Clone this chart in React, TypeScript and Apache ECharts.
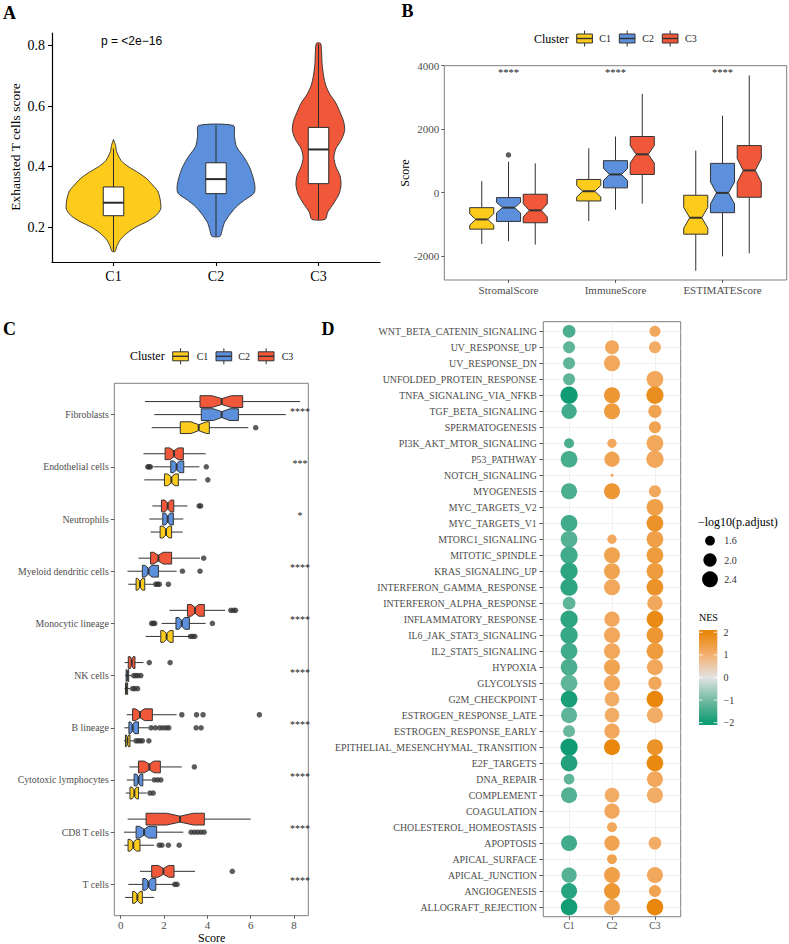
import React, { useEffect, useRef } from 'react';
import * as echarts from 'echarts';

const W = 789;
const H = 944;
const SERIF = '"Liberation Serif", "Times New Roman", serif';
const SANS = '"Liberation Sans", Arial, sans-serif';
const GRAY_TXT = '#4D4D4D';
const BOX_LINE = '#333333';

// ---------- shared ----------
const clusters = ['C1', 'C2', 'C3'];
const clusterColors = ['#FCCB1B', '#5C8FDC', '#F1583A'];
const clusterN = [35, 50, 47];

// ---------- Panel A : exhausted T cell score violins ----------
// [score, half width in category units]
const violinC1 = [[0.12, 0.015], [0.14, 0.036], [0.16, 0.07], [0.18, 0.13], [0.2, 0.215], [0.22, 0.335], [0.24, 0.42], [0.26, 0.46], [0.28, 0.46], [0.3, 0.45], [0.32, 0.43], [0.34, 0.38], [0.36, 0.325], [0.38, 0.244], [0.4, 0.146], [0.42, 0.075], [0.45, 0.03], [0.47, 0.02], [0.49, 0]];
const violinC2 = [[0.17, 0.04], [0.19, 0.06], [0.213, 0.08], [0.24, 0.13], [0.268, 0.2], [0.29, 0.28], [0.312, 0.37], [0.334, 0.38], [0.367, 0.36], [0.4, 0.325], [0.433, 0.27], [0.466, 0.2], [0.5, 0.18], [0.536, 0.17]];
const violinC3 = [[0.226, 0.065], [0.25, 0.09], [0.28, 0.15], [0.31, 0.2], [0.34, 0.22], [0.37, 0.21], [0.4, 0.17], [0.43, 0.15], [0.46, 0.17], [0.49, 0.225], [0.52, 0.255], [0.55, 0.245], [0.58, 0.21], [0.61, 0.17], [0.64, 0.11], [0.67, 0.07], [0.7, 0.05], [0.74, 0.035], [0.78, 0.03], [0.808, 0.02]];
const violinProfiles = [violinC1, violinC2, violinC3];
// [lower whisker, Q1, median, Q3, upper whisker]
const violinBoxes = [
  [0.12, 0.238, 0.281, 0.333, 0.46],
  [0.17, 0.311, 0.359, 0.413, 0.536],
  [0.226, 0.344, 0.457, 0.53, 0.805],
];
const pValueText = 'p = <2e\u221216';
const aTicks = [0.2, 0.4, 0.6, 0.8];

// ---------- Panel B : ESTIMATE scores ----------
const estimateCats = ['StromalScore', 'ImmuneScore', 'ESTIMATEScore'];
const stromalStats = [[-1619, -1153, -847, -476, 360], [-1534, -910, -476, -159, 974], [-1640, -952, -561, -53, 920]];
const immuneStats = [[-899, -265, 42, 413, 1397], [-540, 148, 571, 1005, 1767], [-349, 571, 1206, 1767, 3111]];
const estimateScoreStats = [[-2466, -1312, -794, -85, 1323], [-2011, -635, -11, 920, 2423], [-1915, -148, 698, 1481, 3693]];
const estimateStats = [stromalStats, immuneStats, estimateScoreStats];
const estimateOutliers = [[0, 1, 1185]]; // [category, cluster, value]
const estimateSig = ['****', '****', '****'];
const bTicks = [-2000, 0, 2000, 4000];

// ---------- Panel C : MCP-counter cell scores ----------
const cellTypes = ['Fibroblasts', 'Endothelial cells', 'Neutrophils', 'Myeloid dendritic cells', 'Monocytic lineage', 'NK cells', 'B lineage', 'Cytotoxic lymphocytes', 'CD8 T cells', 'T cells'];
const cellStatsC1 = [[1.43, 2.75, 3.6, 4.09, 5.89], [1.09, 2.02, 2.34, 2.66, 3.51], [1.38, 1.82, 2.09, 2.35, 2.86], [0.35, 0.71, 0.89, 1.11, 1.51], [1.15, 1.85, 2.12, 2.42, 3.2], [0.18, 0.22, 0.26, 0.32, 0.43], [0.15, 0.22, 0.31, 0.43, 0.58], [0.23, 0.43, 0.63, 0.82, 1.2], [0.17, 0.34, 0.58, 0.89, 1.54], [0.2, 0.55, 0.77, 1.0, 1.54]];
const cellStatsC2 = [[1.55, 3.72, 4.66, 5.43, 7.62], [1.51, 2.31, 2.58, 2.91, 3.63], [1.32, 1.94, 2.17, 2.43, 2.89], [0.31, 1.0, 1.28, 1.74, 2.58], [1.89, 2.55, 2.82, 3.17, 3.92], [0.2, 0.25, 0.31, 0.37, 0.48], [0.17, 0.38, 0.55, 0.82, 1.28], [0.28, 0.62, 0.82, 1.02, 1.43], [0.15, 0.71, 1.08, 1.66, 2.89], [0.35, 1.02, 1.28, 1.62, 2.46]];
const cellStatsC3 = [[1.12, 3.66, 4.66, 5.63, 8.28], [1.05, 2.05, 2.46, 2.89, 3.92], [1.46, 1.88, 2.17, 2.45, 3.08], [0.82, 1.38, 1.74, 2.35, 3.66], [2.25, 3.08, 3.43, 3.86, 4.82], [0.18, 0.35, 0.51, 0.66, 1.05], [0.28, 0.55, 0.89, 1.46, 2.58], [0.4, 0.82, 1.32, 1.83, 2.82], [0.32, 1.17, 2.74, 3.86, 6.0], [0.89, 1.43, 1.97, 2.46, 3.43]];
const cellStats = [cellStatsC1, cellStatsC2, cellStatsC3];
// [cell type, cluster, value]
const cellOutliers = [
  [0, 0, 6.23],
  [1, 1, 1.25], [1, 1, 1.31], [1, 1, 1.37], [1, 1, 3.95], [1, 0, 4.02],
  [2, 2, 3.62], [2, 2, 3.69],
  [3, 2, 3.83], [3, 1, 2.85], [3, 1, 3.66], [3, 0, 1.62], [3, 0, 1.7], [3, 0, 1.78], [3, 0, 2.2],
  [4, 2, 5.08], [4, 2, 5.2], [4, 2, 5.3], [4, 1, 1.43], [4, 1, 1.5], [4, 1, 1.57], [4, 1, 4.23], [4, 0, 3.22], [4, 0, 3.32], [4, 0, 3.42],
  [5, 2, 1.32], [5, 2, 2.28], [5, 1, 0.6], [5, 1, 0.7], [5, 1, 0.8], [5, 1, 0.93], [5, 0, 0.55], [5, 0, 0.65], [5, 0, 0.78],
  [6, 2, 2.82], [6, 2, 3.5], [6, 2, 3.8], [6, 2, 6.4], [6, 1, 1.4], [6, 1, 1.6], [6, 1, 1.8], [6, 1, 1.95], [6, 1, 2.1], [6, 1, 2.22], [6, 1, 3.48], [6, 1, 3.71], [6, 0, 0.7], [6, 0, 0.8], [6, 0, 0.9], [6, 0, 1.0], [6, 0, 1.3],
  [7, 2, 3.4], [7, 1, 1.55], [7, 1, 1.7], [7, 1, 1.85], [7, 0, 1.35], [7, 0, 1.5],
  [8, 1, 3.25], [8, 1, 3.4], [8, 1, 3.55], [8, 1, 3.7], [8, 1, 3.85], [8, 0, 1.78], [8, 0, 1.9], [8, 0, 2.2], [8, 0, 2.7],
  [9, 2, 5.15], [9, 1, 2.5], [9, 1, 2.6],
];
const cellSig = ['****', '***', '*', '****', '****', '****', '****', '****', '****', '****'];
const cTicks = [0, 2, 4, 6, 8];

// ---------- Panel D : GSEA hallmark dot plot ----------
const hallmarks = ['WNT_BETA_CATENIN_SIGNALING', 'UV_RESPONSE_UP', 'UV_RESPONSE_DN', 'UNFOLDED_PROTEIN_RESPONSE', 'TNFA_SIGNALING_VIA_NFKB', 'TGF_BETA_SIGNALING', 'SPERMATOGENESIS', 'PI3K_AKT_MTOR_SIGNALING', 'P53_PATHWAY', 'NOTCH_SIGNALING', 'MYOGENESIS', 'MYC_TARGETS_V2', 'MYC_TARGETS_V1', 'MTORC1_SIGNALING', 'MITOTIC_SPINDLE', 'KRAS_SIGNALING_UP', 'INTERFERON_GAMMA_RESPONSE', 'INTERFERON_ALPHA_RESPONSE', 'INFLAMMATORY_RESPONSE', 'IL6_JAK_STAT3_SIGNALING', 'IL2_STAT5_SIGNALING', 'HYPOXIA', 'GLYCOLYSIS', 'G2M_CHECKPOINT', 'ESTROGEN_RESPONSE_LATE', 'ESTROGEN_RESPONSE_EARLY', 'EPITHELIAL_MESENCHYMAL_TRANSITION', 'E2F_TARGETS', 'DNA_REPAIR', 'COMPLEMENT', 'COAGULATION', 'CHOLESTEROL_HOMEOSTASIS', 'APOPTOSIS', 'APICAL_SURFACE', 'APICAL_JUNCTION', 'ANGIOGENESIS', 'ALLOGRAFT_REJECTION'];
const nesC1 = [-1.4, -1.2, -1.2, -1.2, -2.0, -1.5, null, -1.4, -1.45, null, -1.4, null, -1.5, -1.3, -1.5, -1.7, -1.7, -1.2, -1.7, -1.6, -1.5, -1.4, -1.2, -1.9, -1.2, -1.1, -2.0, -1.8, -1.2, -1.3, null, null, -1.5, null, -1.3, -1.75, -1.95];
const nesC2 = [null, 1.2, 1.2, null, 1.6, 1.5, null, 1.2, 1.3, 1.3, 1.6, null, null, 1.2, 1.3, 1.3, 1.2, null, 1.2, 1.2, 1.2, 1.3, 1.2, 1.1, 1.1, 1.2, 2.0, null, null, 1.1, 1.2, 1.2, 1.3, 1.3, 1.4, 1.6, 1.3];
const nesC3 = [1.2, 1.1, null, 1.2, 1.8, 1.3, 1.3, 1.2, 1.2, null, 1.2, 1.4, 1.7, 1.4, 1.5, 1.5, 1.7, 1.2, 1.9, 1.6, 1.5, 1.2, 1.2, 2.0, 1.1, null, 1.7, 1.95, 1.2, 1.1, null, null, 1.1, null, 1.2, 1.3, 2.0];
const logPC1 = [1.93, 1.84, 1.84, 1.84, 2.66, 2.3, null, 1.62, 2.54, null, 2.42, null, 2.54, 2.54, 2.66, 2.66, 2.66, 1.93, 2.66, 2.66, 2.54, 2.54, 2.54, 2.54, 2.42, 1.84, 2.66, 2.54, 1.69, 2.42, null, null, 2.42, null, 2.3, 2.42, 2.54];
const logPC2 = [null, 2.1, 2.42, null, 2.42, 2.42, null, 1.56, 2.3, 1.3, 2.42, null, null, 1.56, 2.42, 2.42, 2.42, null, 2.3, 2.42, 2.42, 2.42, 2.42, 2.21, 2.21, 2.3, 2.42, null, null, 2.21, 2.3, 1.62, 2.3, 1.62, 2.42, 2.42, 2.42];
const logPC3 = [1.72, 1.84, null, 2.54, 2.66, 2.0, 1.84, 2.54, 2.66, null, 1.84, 2.54, 2.54, 2.54, 2.54, 2.54, 2.54, 2.3, 2.54, 2.54, 2.54, 2.42, 2.0, 2.54, 2.42, null, 2.42, 2.54, 2.42, 2.42, null, null, 1.93, null, 2.42, 1.84, 2.54];
const nesByCluster = [nesC1, nesC2, nesC3];
const logPByCluster = [logPC1, logPC2, logPC3];
const sizeLegendValues = [1.6, 2.0, 2.4];
const nesTicks = [2, 1, 0, -1, -2];
const nesColors = ['#0F9B73', '#73BBA2', '#E3E3E3', '#F3B070', '#E8870B'];

// size scale (area-like, as ggplot scale_size)
const dotSize = (v: number) => 3 + 14 * Math.sqrt(Math.max(0, (v - 1.3) / 1.3));

function seg(a: number[], b: number[], lw: number, col: string) {
  return { type: 'line', shape: { x1: a[0], y1: a[1], x2: b[0], y2: b[1] }, style: { stroke: col, lineWidth: lw } };
}

function notchedBox(api: any, pos: number, stats: number[], n: number, color: string, horizontal: boolean) {
  const [lo, q1, med, q3, hi] = stats;
  const notch = (1.58 * (q3 - q1)) / Math.sqrt(n);
  const nlo = med - notch;
  const nhi = med + notch;
  const P = (off: number, v: number) => (horizontal ? api.coord([v, pos + off]) : api.coord([pos + off, v]));
  const w = 0.1125;
  const wn = w * 0.5;
  const pts = [P(-w, q1), P(-w, nlo), P(-wn, med), P(-w, nhi), P(-w, q3), P(w, q3), P(w, nhi), P(wn, med), P(w, nlo), P(w, q1)];
  return {
    type: 'group',
    children: [
      seg(P(0, q3), P(0, hi), 1, BOX_LINE),
      seg(P(0, q1), P(0, lo), 1, BOX_LINE),
      { type: 'polygon', shape: { points: pts }, style: { fill: color, stroke: BOX_LINE, lineWidth: 1 } },
      seg(P(-wn, med), P(wn, med), 2, BOX_LINE),
    ],
  };
}

function txt(text: string, x: number, y: number, o: any = {}) {
  return {
    type: 'text',
    x,
    y,
    rotation: o.rotation || 0,
    style: {
      text,
      fontSize: o.size || 12,
      fontFamily: o.family || SERIF,
      fontWeight: o.weight || 'normal',
      fill: o.color || '#000',
      align: o.align || 'left',
      verticalAlign: 'middle',
    },
  };
}

function legendKeys(labelX: number, y: number, keyXs: number[], labelXs: number[]) {
  const els: any[] = [txt('Cluster', labelX, y, { size: 12 })];
  keyXs.forEach((kx, i) => {
    const w = 15.7;
    const cx = kx + w / 2;
    els.push(seg([cx, y - 8], [cx, y - 4.5], 1, BOX_LINE));
    els.push(seg([cx, y + 4.5], [cx, y + 8], 1, BOX_LINE));
    els.push({ type: 'rect', shape: { x: kx, y: y - 4.5, width: w, height: 9 }, style: { fill: clusterColors[i], stroke: BOX_LINE, lineWidth: 1 } });
    els.push(seg([kx, y], [kx + w, y], 1.4, BOX_LINE));
    els.push(txt(clusters[i], labelXs[i], y, { size: 10, color: '#1a1a1a' }));
  });
  return els;
}

function buildOption() {
  const serifLabel = (size: number, color: string, margin: number) => ({ fontFamily: SERIF, fontSize: size, color, margin });
  const idxs = (n: number) => Array.from({ length: n }, (_, i) => i);

  // D dots
  const dots: number[][] = [];
  nesByCluster.forEach((arr, c) => {
    arr.forEach((nes, r) => {
      const lp = logPByCluster[c][r];
      if (nes !== null && lp !== null) dots.push([c, r, lp as number, nes as number]);
    });
  });

  // B boxes data
  const bBoxData: number[][] = [];
  estimateStats.forEach((cat, ci) => cat.forEach((s, cl) => bBoxData.push([ci + (cl - 1) * 0.25, s[2], ci, cl])));
  const cBoxData: number[][] = [];
  cellTypes.forEach((_, ti) => clusters.forEach((__, cl) => cBoxData.push([cellStats[cl][ti][2], ti + (1 - cl) * 0.25, ti, cl])));

  // colourbar
  const barTop = 630, barH = 95, barX = 699, barW = 18.3;
  const pxPerNes = 22.6;
  const nesY = (v: number) => barTop + (2.1 - v) * pxPerNes;
  const gradStops = [{ offset: 0, color: nesColors[4] }].concat(
    [2, 1, 0, -1, -2].map((v, i) => ({ offset: (nesY(v) - barTop) / barH, color: nesColors[4 - i] })),
    [{ offset: 1, color: nesColors[0] }]
  );

  const graphic: any[] = [
    txt('A', 3, 12.5, { size: 18, weight: 'bold' }),
    txt('B', 401.5, 11, { size: 18, weight: 'bold' }),
    txt('C', 3, 328.5, { size: 18, weight: 'bold' }),
    txt('D', 321.5, 328.5, { size: 18, weight: 'bold' }),
    txt(pValueText, 101, 40.5, { size: 12, family: SANS }),
    txt('Exhausted T cells score', 15, 147, { size: 13.5, align: 'center', rotation: Math.PI / 2 }),
    txt('Score', 405, 173, { size: 12, align: 'center', rotation: Math.PI / 2 }),
    txt('Score', 211.7, 937.5, { size: 12, align: 'center' }),
    ...legendKeys(534, 38.5, [576.7, 619.3, 662.3], [599.3, 642.3, 685]),
    ...legendKeys(130, 356.3, [172.7, 216, 258.3], [196.7, 238.3, 281.7]),
    txt('\u2212log10(p.adjust)', 698, 521.7, { size: 12 }),
    txt('NES', 699, 617.7, { size: 10 }),
    {
      type: 'rect',
      shape: { x: barX, y: barTop, width: barW, height: barH },
      style: { fill: new echarts.graphic.LinearGradient(0, 0, 0, 1, gradStops) },
    },
  ];
  sizeLegendValues.forEach((v, i) => {
    const cy = 540.7 + i * 19.3;
    graphic.push({ type: 'circle', shape: { cx: 710, cy, r: dotSize(v) / 2 }, style: { fill: '#000' } });
    graphic.push(txt(v.toFixed(1), 724.3, cy, { size: 10, color: '#333' }));
  });
  nesTicks.forEach((v) => {
    const y = nesY(v);
    graphic.push(seg([barX, y], [barX + 3.6, y], 0.8, '#ffffff'));
    graphic.push(seg([barX + barW - 3.6, y], [barX + barW, y], 0.8, '#ffffff'));
    graphic.push(txt(v < 0 ? '\u2212' + Math.abs(v) : String(v), 723.5, y, { size: 10, color: '#333' }));
  });

  const borderGrid = { show: true, borderColor: '#7F7F7F', borderWidth: 1, backgroundColor: 'transparent' };
  const grayTick = (len: number, vals: number[]) => ({ show: true, length: len, lineStyle: { color: '#333', width: 0.8 }, customValues: vals });
  const hiddenLine = { show: false, onZero: false };

  return {
    animation: false,
    backgroundColor: '#ffffff',
    grid: [
      { left: 52, top: 33, width: 328, height: 229 },
      { left: 444.3, top: 65.7, width: 342.4, height: 214.3, ...borderGrid },
      { left: 114.3, top: 383.3, width: 194, height: 532.4, ...borderGrid },
      { left: 543.3, top: 321.7, width: 137.4, height: 595, ...borderGrid },
    ],
    xAxis: [
      {
        gridIndex: 0, type: 'value', min: -0.6, max: 2.6,
        axisLine: { show: true, onZero: false, lineStyle: { color: '#000', width: 1.2 } },
        axisTick: { show: true, length: 4, lineStyle: { color: '#000', width: 1.1 }, customValues: [0, 1, 2] },
        axisLabel: { ...serifLabel(14, '#000', 7), customValues: [0, 1, 2], formatter: (v: number) => clusters[Math.round(v)] },
        splitLine: { show: false },
      },
      {
        gridIndex: 1, type: 'value', min: -0.6, max: 2.6,
        axisLine: hiddenLine, axisTick: grayTick(3, [0, 1, 2]),
        axisLabel: { ...serifLabel(11, GRAY_TXT, 4), customValues: [0, 1, 2], formatter: (v: number) => estimateCats[Math.round(v)] },
        splitLine: { show: false },
      },
      {
        gridIndex: 2, type: 'value', min: -0.295, max: 8.657,
        axisLine: hiddenLine, axisTick: grayTick(3, cTicks),
        axisLabel: { ...serifLabel(11, GRAY_TXT, 4), customValues: cTicks, formatter: (v: number) => String(v) },
        splitLine: { show: false },
      },
      {
        gridIndex: 3, type: 'value', min: -0.6, max: 2.6,
        axisLine: hiddenLine, axisTick: grayTick(3, [0, 1, 2]),
        axisLabel: { ...serifLabel(9.6, GRAY_TXT, 4), customValues: [0, 1, 2], formatter: (v: number) => clusters[Math.round(v)] },
        splitLine: { show: true, lineStyle: { color: '#EBEBEB', width: 0.7 } },
      },
    ],
    yAxis: [
      {
        gridIndex: 0, type: 'value', min: 0.085, max: 0.842,
        axisLine: { show: true, onZero: false, lineStyle: { color: '#000', width: 1.2 } },
        axisTick: { show: true, length: 4, lineStyle: { color: '#000', width: 1.1 }, customValues: aTicks },
        axisLabel: { ...serifLabel(14, '#000', 7), customValues: aTicks, formatter: (v: number) => v.toFixed(1) },
        splitLine: { show: false },
      },
      {
        gridIndex: 1, type: 'value', min: -2757, max: 4000,
        axisLine: hiddenLine, axisTick: grayTick(3, bTicks),
        axisLabel: { ...serifLabel(11, GRAY_TXT, 5), customValues: bTicks, formatter: (v: number) => String(v) },
        splitLine: { show: false },
      },
      {
        gridIndex: 2, type: 'value', min: -0.6, max: 9.6, inverse: true,
        axisLine: hiddenLine, axisTick: grayTick(3.5, idxs(cellTypes.length)),
        axisLabel: { ...serifLabel(9.8, GRAY_TXT, 5.5), customValues: idxs(cellTypes.length), formatter: (v: number) => cellTypes[Math.round(v)] },
        splitLine: { show: false },
      },
      {
        gridIndex: 3, type: 'value', min: -0.6, max: 36.6, inverse: true,
        axisLine: hiddenLine, axisTick: grayTick(4, idxs(hallmarks.length)),
        axisLabel: { ...serifLabel(9.9, GRAY_TXT, 6.5), customValues: idxs(hallmarks.length), formatter: (v: number) => hallmarks[Math.round(v)] },
        splitLine: { show: true, lineStyle: { color: '#EBEBEB', width: 0.7 } },
      },
    ],
    visualMap: [
      { type: 'continuous', show: false, seriesIndex: 7, dimension: 3, min: -2, max: 2, inRange: { color: nesColors } },
    ],
    series: [
      {
        type: 'custom', xAxisIndex: 0, yAxisIndex: 0,
        data: clusters.map((_, i) => [i, violinBoxes[i][2]]),
        renderItem: (params: any, api: any) => {
          const i = params.dataIndex;
          const prof = violinProfiles[i];
          const c0 = api.coord([i, 0.5]);
          const unit = api.coord([i + 1, 0.5])[0] - c0[0];
          const cx = c0[0];
          const right = prof.map(([v, hw]) => [cx + hw * unit, api.coord([i, v])[1]]);
          const left = prof.slice().reverse().map(([v, hw]) => [cx - hw * unit, api.coord([i, v])[1]]);
          const [lo, q1, med, q3, hi] = violinBoxes[i];
          const y = (v: number) => api.coord([i, v])[1];
          const bw = 0.1 * unit;
          return {
            type: 'group',
            children: [
              { type: 'polygon', shape: { points: right.concat(left), smooth: 0.25 }, style: { fill: clusterColors[i], stroke: '#2a2a2a', lineWidth: 0.9 } },
              seg([cx, y(lo)], [cx, y(hi)], 1, '#2a2a2a'),
              { type: 'rect', shape: { x: cx - bw, y: y(q3), width: 2 * bw, height: y(q1) - y(q3) }, style: { fill: '#ffffff', stroke: '#2a2a2a', lineWidth: 1 } },
              seg([cx - bw, y(med)], [cx + bw, y(med)], 2, '#2a2a2a'),
            ],
          };
        },
      },
      {
        type: 'custom', xAxisIndex: 1, yAxisIndex: 1, data: bBoxData,
        renderItem: (params: any, api: any) => {
          const d = bBoxData[params.dataIndex];
          return notchedBox(api, d[0], estimateStats[d[2]][d[3]], clusterN[d[3]], clusterColors[d[3]], false);
        },
      },
      {
        type: 'scatter', xAxisIndex: 1, yAxisIndex: 1, symbolSize: 5.5,
        itemStyle: { color: '#333333' },
        data: estimateOutliers.map(([c, cl, v]) => [c + (cl - 1) * 0.25, v]),
      },
      {
        type: 'custom', xAxisIndex: 1, yAxisIndex: 1,
        data: estimateSig.map((_, i) => [i, 0]),
        renderItem: (params: any, api: any) => {
          const i = params.dataIndex;
          const x = api.coord([i, 0])[0];
          const yTop = api.coord([i, 4000])[1];
          return { type: 'text', x, y: yTop + 6.5, style: { text: estimateSig[i], fontSize: 10.5, fontFamily: SERIF, fill: '#1a1a1a', align: 'center', verticalAlign: 'middle' } };
        },
      },
      {
        type: 'custom', xAxisIndex: 2, yAxisIndex: 2, data: cBoxData,
        renderItem: (params: any, api: any) => {
          const d = cBoxData[params.dataIndex];
          return notchedBox(api, d[1], cellStats[d[3]][d[2]], clusterN[d[3]], clusterColors[d[3]], true);
        },
      },
      {
        type: 'scatter', xAxisIndex: 2, yAxisIndex: 2, symbolSize: 5.5,
        itemStyle: { color: '#333333' },
        data: cellOutliers.map(([t, cl, v]) => [v, t + (1 - cl) * 0.25]),
      },
      {
        type: 'custom', xAxisIndex: 2, yAxisIndex: 2,
        data: cellSig.map((_, i) => [8.27, i]),
        renderItem: (params: any, api: any) => {
          const i = params.dataIndex;
          const p = api.coord([8.27, i]);
          return { type: 'text', x: p[0], y: p[1] - 3.5, style: { text: cellSig[i], fontSize: 10, fontFamily: SERIF, fill: '#1a1a1a', align: 'center', verticalAlign: 'middle' } };
        },
      },
      {
        type: 'scatter', xAxisIndex: 3, yAxisIndex: 3,
        data: dots,
        symbolSize: (val: number[]) => dotSize(val[2]),
        itemStyle: { opacity: 1 },
      },
    ],
    graphic,
  };
}

export default function App() {
  const ref = useRef<HTMLDivElement>(null);
  useEffect(() => {
    if (!ref.current) return;
    const chart = echarts.init(ref.current, null, { renderer: 'svg', width: W, height: H });
    chart.setOption(buildOption() as any);
    return () => chart.dispose();
  }, []);
  return <div ref={ref} style={{ position: 'absolute', left: 0, top: 0, width: W, height: H, background: '#fff' }} />;
}
